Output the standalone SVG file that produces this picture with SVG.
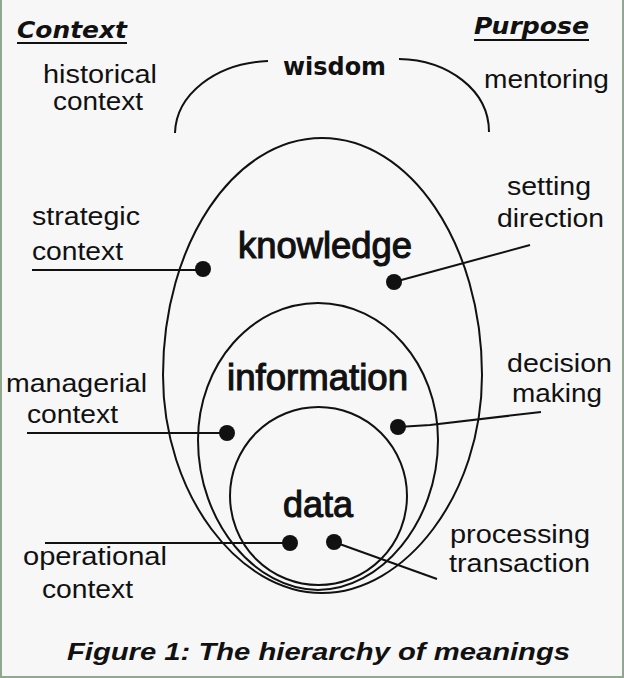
<svg xmlns="http://www.w3.org/2000/svg" width="624" height="678" viewBox="0 0 624 678">
<style>
.shape{fill:none;stroke:#111;stroke-width:2}
.lead{fill:none;stroke:#111;stroke-width:2}
.dot{fill:#111}
.lbl{font-family:"Liberation Sans",Arial,sans-serif;font-size:26px;fill:#111}
.main{font-family:"Liberation Sans",Arial,sans-serif;font-size:36px;font-weight:normal;fill:#111;stroke:#111;stroke-width:1.1}
.head{font-family:"DejaVu Sans",Verdana,sans-serif;font-size:23px;font-weight:bold;font-style:italic;fill:#111}
.wis{font-family:"DejaVu Sans",Verdana,sans-serif;font-size:24px;font-weight:bold;fill:#111}
.cap{font-family:"Liberation Sans",Arial,sans-serif;font-size:24px;font-weight:bold;font-style:italic;fill:#111}
</style>
<rect x="0" y="0" width="624" height="678" fill="#f7f7f7"/>
<path d="M1,0 V677 H623 V0" fill="none" stroke="#8fa88f" stroke-width="2"/>

<g id="headers">
<text class="head" x="17" y="38" textLength="110" lengthAdjust="spacingAndGlyphs">Context</text>
<line x1="17" y1="43" x2="127" y2="43" stroke="#111" stroke-width="2"/>
<text class="head" x="474" y="34" textLength="115" lengthAdjust="spacingAndGlyphs">Purpose</text>
<line x1="474" y1="40" x2="589" y2="40" stroke="#111" stroke-width="2"/>
</g>

<g id="wisdom">
<path class="shape" d="M175,133 C176,95 215,63 268,61"/>
<path class="shape" d="M399,59 C448,60 489,90 489,132"/>
<text class="wis" x="283" y="75" textLength="103" lengthAdjust="spacingAndGlyphs">wisdom</text>
</g>

<g id="knowledge">
<path class="shape" d="M322,138 C410,138 482,244 482,375 C482,495 405,593 322,593 C239,593 163,495 163,375 C163,244 234,138 322,138 Z"/>
<text class="main" x="238" y="258" textLength="174" lengthAdjust="spacingAndGlyphs">knowledge</text>
</g>

<g id="information">
<path class="shape" d="M318,303 C384,303 438,364 438,440 C438,523 380,590 318,590 C256,590 198,523 198,440 C198,364 252,303 318,303 Z"/>
<text class="main" x="227" y="390" textLength="181" lengthAdjust="spacingAndGlyphs">information</text>
</g>

<g id="data">
<ellipse class="shape" cx="318.5" cy="496" rx="88.5" ry="89"/>
<text class="main" x="283" y="517" textLength="70" lengthAdjust="spacingAndGlyphs">data</text>
</g>

<g id="context-labels">
<text class="lbl" x="43" y="83" textLength="114" lengthAdjust="spacingAndGlyphs">historical</text>
<text class="lbl" x="53" y="110" textLength="90" lengthAdjust="spacingAndGlyphs">context</text>
<text class="lbl" x="32" y="225" textLength="108" lengthAdjust="spacingAndGlyphs">strategic</text>
<text class="lbl" x="32" y="260" textLength="91" lengthAdjust="spacingAndGlyphs">context</text>
<text class="lbl" x="6" y="392" textLength="141" lengthAdjust="spacingAndGlyphs">managerial</text>
<text class="lbl" x="27" y="423" textLength="91" lengthAdjust="spacingAndGlyphs">context</text>
<text class="lbl" x="23" y="565" textLength="144" lengthAdjust="spacingAndGlyphs">operational</text>
<text class="lbl" x="42" y="598" textLength="91" lengthAdjust="spacingAndGlyphs">context</text>
</g>

<g id="purpose-labels">
<text class="lbl" x="484" y="88" textLength="125" lengthAdjust="spacingAndGlyphs">mentoring</text>
<text class="lbl" x="507" y="195" textLength="84" lengthAdjust="spacingAndGlyphs">setting</text>
<text class="lbl" x="497" y="227" textLength="107" lengthAdjust="spacingAndGlyphs">direction</text>
<text class="lbl" x="507" y="372" textLength="105" lengthAdjust="spacingAndGlyphs">decision</text>
<text class="lbl" x="512" y="402" textLength="90" lengthAdjust="spacingAndGlyphs">making</text>
<text class="lbl" x="450" y="543" textLength="140" lengthAdjust="spacingAndGlyphs">processing</text>
<text class="lbl" x="449" y="572" textLength="141" lengthAdjust="spacingAndGlyphs">transaction</text>
</g>

<g id="connectors">
<line class="lead" x1="32" y1="270" x2="203" y2="270"/>
<line class="lead" x1="394" y1="282" x2="530" y2="245"/>
<line class="lead" x1="27" y1="433" x2="227" y2="433"/>
<polyline class="lead" points="398,427 430,425 541,412"/>
<line class="lead" x1="45" y1="543" x2="290" y2="543"/>
<line class="lead" x1="334" y1="542" x2="437" y2="579"/>
<circle class="dot" cx="203" cy="269" r="8"/>
<circle class="dot" cx="394" cy="282" r="8"/>
<circle class="dot" cx="227" cy="433" r="8"/>
<circle class="dot" cx="398" cy="427" r="8"/>
<circle class="dot" cx="290" cy="543" r="8"/>
<circle class="dot" cx="334" cy="542" r="8"/>
</g>

<g id="caption">
<text class="cap" x="67" y="660" textLength="503" lengthAdjust="spacingAndGlyphs">Figure 1:  The hierarchy of meanings</text>
</g>
</svg>
